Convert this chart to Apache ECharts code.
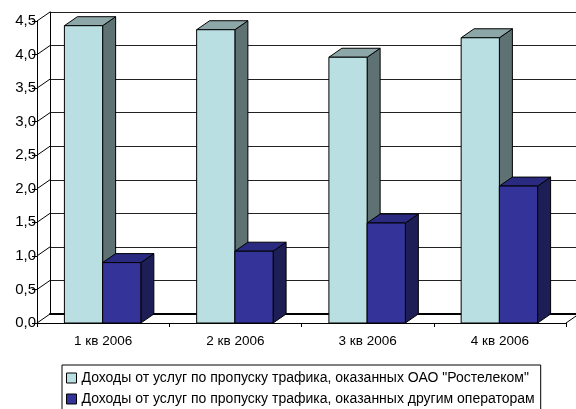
<!DOCTYPE html>
<html>
<head>
<meta charset="utf-8">
<script src="https://cdn.jsdelivr.net/npm/echarts@6/dist/echarts.min.js"></script>
<style>
  html, body { margin: 0; padding: 0; background: #fff; }
  #chart { width: 576px; height: 409px; }
</style>
</head>
<body>
<div id="chart"></div>
<script>
// данные с картинки
const categories = ["1 кв 2006", "2 кв 2006", "3 кв 2006", "4 кв 2006"];
const rostelecom = [4.43, 4.37, 3.96, 4.25];
const otherOps = [0.90, 1.07, 1.49, 2.04];
const yTicks = [0, 0.5, 1, 1.5, 2, 2.5, 3, 3.5, 4, 4.5];
const seriesNames = [
  'Доходы от услуг по пропуску трафика, оказанных ОАО "Ростелеком"',
  "Доходы от услуг по пропуску трафика, оказанных другим операторам",
];

const DX = 13, DY = -9; // глубина 3D
const BAR_RATIO = 0.289;
const FONT = "Liberation Sans, Arial, sans-serif";

const palette = [
  { front: "#B9DFE3", top: "#8DA7A9", side: "#5E7273" },
  { front: "#333399", top: "#2A2A80", side: "#1E1E57" },
];

function barRenderer(k) {
  return function (params, api) {
    const idx = api.value(0);
    const val = api.value(1);
    const top = api.coord([idx, val]);
    const base = api.coord([idx, 0]);
    const band = api.size([1, 0])[0];
    const w = band * BAR_RATIO;
    const x0 = (k === 0 ? top[0] - w : top[0]) - 0.5;
    const x1 = x0 + w;
    const c = palette[k];
    const stroke = { stroke: "#000", lineWidth: 1 };
    return {
      type: "group",
      children: [
        {
          type: "polygon",
          shape: { points: [[x1, top[1]], [x1 + DX, top[1] + DY], [x1 + DX, base[1] + DY], [x1, base[1]]] },
          style: Object.assign({ fill: c.side }, stroke),
        },
        {
          type: "polygon",
          shape: { points: [[x0, top[1]], [x0 + DX, top[1] + DY], [x1 + DX, top[1] + DY], [x1, top[1]]] },
          style: Object.assign({ fill: c.top }, stroke),
        },
        {
          type: "rect",
          shape: { x: x0, y: top[1], width: w, height: base[1] - top[1] },
          style: Object.assign({ fill: c.front }, stroke),
        },
      ],
    };
  };
}

// диагонали боковой стенки и пола
function wallRenderer(params, api) {
  const cs = params.coordSys;
  const v = api.value(0);
  const p = api.coord([0, v]);
  const children = [
    {
      type: "line",
      shape: { x1: cs.x, y1: p[1], x2: cs.x + DX, y2: p[1] + DY },
      style: { stroke: "#000", lineWidth: 1 },
    },
  ];
  if (v === 0) {
    const xr = cs.x + cs.width;
    children.push({
      type: "line",
      shape: { x1: xr, y1: p[1], x2: xr + DX, y2: p[1] + DY },
      style: { stroke: "#000", lineWidth: 1 },
    });
  }
  return { type: "group", children: children };
}

const chart = echarts.init(document.getElementById("chart"));
chart.setOption({
  animation: false,
  backgroundColor: "#fff",
  textStyle: { fontFamily: FONT },
  grid: [
    { left: 37, top: 21, width: 529, height: 302 },
    { left: 50, top: 12, width: 530, height: 302 },
  ],
  xAxis: [
    {
      gridIndex: 0,
      type: "category",
      data: categories,
      axisLine: { lineStyle: { color: "#000", width: 1 } },
      axisTick: { show: true, length: 4, lineStyle: { color: "#000" } },
      axisLabel: { color: "#000", fontSize: 13.5, margin: 11, fontFamily: FONT },
    },
    {
      gridIndex: 1,
      type: "category",
      data: categories,
      axisLine: { lineStyle: { color: "#000", width: 2 } },
      axisTick: { show: false },
      axisLabel: { show: false },
    },
  ],
  yAxis: [
    {
      gridIndex: 0,
      type: "value",
      min: 0,
      max: 4.5,
      interval: 0.5,
      axisLine: { show: true, lineStyle: { color: "#000" } },
      axisTick: { show: true, length: 5, lineStyle: { color: "#000" } },
      splitLine: { show: false },
      axisLabel: {
        color: "#000",
        fontSize: 15,
        margin: 1,
        fontFamily: FONT,
        formatter: (v) => v.toFixed(1).replace(".", ","),
      },
    },
    {
      gridIndex: 1,
      type: "value",
      min: 0,
      max: 4.5,
      interval: 0.5,
      axisLine: { show: true, lineStyle: { color: "#000" } },
      axisTick: { show: false },
      axisLabel: { show: false },
      splitLine: { show: true, lineStyle: { color: "#222", width: 1 } },
    },
  ],
  legend: {
    orient: "vertical",
    left: 62,
    top: 365,
    height: 80,
    padding: [6, 6, 20, 4],
    itemGap: 7,
    itemWidth: 10,
    itemHeight: 10,
    borderColor: "#000",
    borderWidth: 1,
    textStyle: { fontSize: 14, color: "#000", lineHeight: 14, fontFamily: FONT },
    data: seriesNames.map((n, i) => ({
      name: n,
      icon: "rect",
      itemStyle: { color: palette[i].front, borderColor: "#000", borderWidth: 1 },
    })),
  },
  series: [
    {
      type: "custom",
      xAxisIndex: 0,
      yAxisIndex: 0,
      renderItem: wallRenderer,
      data: yTicks.map((v) => [v]),
      encode: { y: 0 },
      silent: true,
      z: 1,
    },
    {
      name: seriesNames[0],
      type: "custom",
      xAxisIndex: 0,
      yAxisIndex: 0,
      renderItem: barRenderer(0),
      itemStyle: { color: palette[0].front },
      data: rostelecom.map((v, i) => [i, v]),
      encode: { x: 0, y: 1 },
      z: 2,
    },
    {
      name: seriesNames[1],
      type: "custom",
      xAxisIndex: 0,
      yAxisIndex: 0,
      renderItem: barRenderer(1),
      itemStyle: { color: palette[1].front },
      data: otherOps.map((v, i) => [i, v]),
      encode: { x: 0, y: 1 },
      z: 3,
    },
  ],
});
</script>
</body>
</html>
